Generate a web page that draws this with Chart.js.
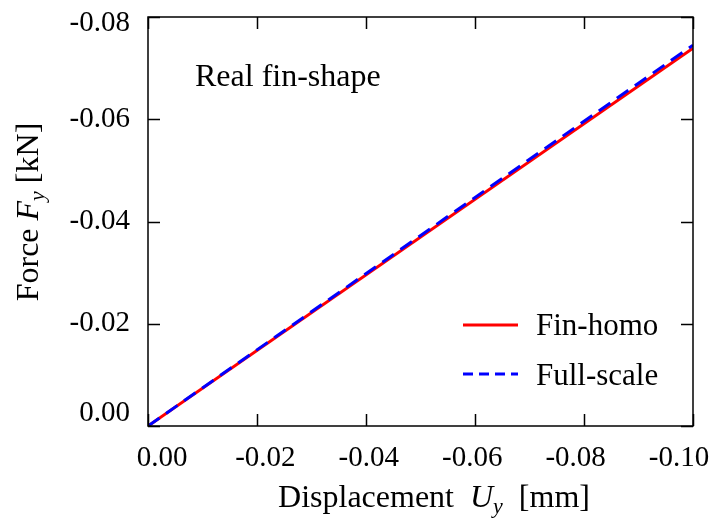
<!DOCTYPE html>
<html>
<head>
<meta charset="utf-8">
<script src="https://cdn.jsdelivr.net/npm/chart.js@4.4.0/dist/chart.umd.min.js"></script>
<style>
  html, body { margin: 0; padding: 0; background: #fff; }
  #wrap { width: 715px; height: 524px; }
</style>
</head>
<body>
<div id="wrap"><canvas id="myChart"></canvas></div>
<script>
// displacement Uy [mm] and force Fy [kN]
var dispX = [0, -0.1];
var finHomo = [0, -0.0739];
var fullScale = [0, -0.0745];
var xTicks = [0, -0.02, -0.04, -0.06, -0.08, -0.1];
var yTicks = [0, -0.02, -0.04, -0.06, -0.08];

var serif = "'Liberation Serif', 'Times New Roman', serif";

function pts(xs, ys) {
  return xs.map(function (x, i) { return { x: x, y: ys[i] }; });
}

// draws text pieces: [text, font, dy]
function drawRich(c, parts, x, y, align) {
  var total = 0;
  parts.forEach(function (p) { c.font = p[1]; total += c.measureText(p[0]).width; });
  var cx = align === "center" ? x - total / 2 : x;
  c.textAlign = "left";
  parts.forEach(function (p) {
    c.font = p[1];
    c.fillText(p[0], cx, y + (p[2] || 0));
    cx += c.measureText(p[0]).width;
  });
}

var frame = {
  id: "frame",
  afterDraw: function (chart) {
    var c = chart.ctx, a = chart.chartArea;
    var xs = chart.scales.x, ys = chart.scales.y;
    c.save();
    c.strokeStyle = "#000";
    c.lineWidth = 1.5;
    c.strokeRect(a.left, a.top, a.right - a.left, a.bottom - a.top);
    // inner ticks on all four sides
    xTicks.forEach(function (v) {
      var px = Math.round(xs.getPixelForValue(v)) + 0.5;
      c.beginPath();
      c.moveTo(px, a.bottom); c.lineTo(px, a.bottom - 12);
      c.moveTo(px, a.top); c.lineTo(px, a.top + 12);
      c.stroke();
    });
    yTicks.forEach(function (v) {
      var py = Math.round(ys.getPixelForValue(v)) + 0.5;
      c.beginPath();
      c.moveTo(a.left, py); c.lineTo(a.left + 12, py);
      c.moveTo(a.right, py); c.lineTo(a.right - 12, py);
      c.stroke();
    });

    // tick labels
    c.fillStyle = "#000";
    c.font = "29px " + serif;
    c.textBaseline = "alphabetic";
    c.textAlign = "center";
    xTicks.forEach(function (v, i) {
      var px = xs.getPixelForValue(v) + 14 - 28 * i / (xTicks.length - 1);
      c.fillText(v.toFixed(2), px, a.bottom + 40);
    });
    c.textAlign = "right";
    c.textBaseline = "middle";
    yTicks.forEach(function (v) {
      var py = ys.getPixelForValue(v);
      py = Math.min(Math.max(py, a.top + 6), a.bottom - 13);
      c.fillText(v.toFixed(2), a.left - 18, py);
    });

    c.textBaseline = "alphabetic";
    // annotation
    c.font = "32px " + serif;
    c.textAlign = "left";
    c.fillText("Real fin-shape", 195, 86);

    // legend
    c.lineWidth = 3;
    c.strokeStyle = "#ff0000";
    c.beginPath(); c.moveTo(463, 325); c.lineTo(518, 325); c.stroke();
    c.strokeStyle = "#0000ff";
    c.setLineDash([10, 6]);
    c.beginPath(); c.moveTo(463, 374); c.lineTo(518, 374); c.stroke();
    c.setLineDash([]);
    c.font = "31px " + serif;
    c.fillText("Fin-homo", 536, 335);
    c.fillText("Full-scale", 536, 385);

    // axis titles
    var rm = "32px " + serif, it = "italic 32px " + serif, sub = "italic 22px " + serif;
    drawRich(c, [["Displacement  ", rm], ["U", it], ["y", sub, 6], ["  [mm]", rm]], 434, 507, "center");

    c.translate(38, 212);
    c.rotate(-Math.PI / 2);
    drawRich(c, [["Force ", rm], ["F", it], ["y", sub, 6], [" [kN]", rm]], 0, 0, "center");
    c.restore();
  }
};

var ctx = document.getElementById("myChart").getContext("2d");
var myChart = new Chart(ctx, {
  type: "scatter",
  data: {
    datasets: [
      {
        label: "Full-scale",
        data: pts(dispX, fullScale),
        showLine: true,
        borderColor: "#0000ff",
        borderWidth: 3,
        borderDash: [14, 8],
        pointRadius: 0,
        order: 1,
      },
      {
        label: "Fin-homo",
        data: pts(dispX, finHomo),
        showLine: true,
        borderColor: "#ff0000",
        borderWidth: 3,
        pointRadius: 0,
        order: 2,
      },
    ],
  },
  options: {
    responsive: true,
    maintainAspectRatio: false,
    animation: false,
    layout: { padding: { left: 0, right: 22, top: 17, bottom: 0 } },
    plugins: {
      legend: { display: false },
      tooltip: { enabled: false },
    },
    scales: {
      x: {
        type: "linear",
        min: -0.1,
        max: 0,
        reverse: true,
        afterBuildTicks: function (s) { s.ticks = xTicks.map(function (v) { return { value: v }; }); },
        afterFit: function (s) { s.height = 98; },
        grid: { display: false, drawTicks: false },
        border: { display: false },
        ticks: { display: false },
      },
      y: {
        type: "linear",
        min: -0.08,
        max: 0,
        reverse: true,
        afterBuildTicks: function (s) { s.ticks = yTicks.map(function (v) { return { value: v }; }); },
        afterFit: function (s) { s.width = 148; },
        grid: { display: false, drawTicks: false },
        border: { display: false },
        ticks: { display: false },
      },
    },
  },
  plugins: [frame],
});
</script>
</body>
</html>
